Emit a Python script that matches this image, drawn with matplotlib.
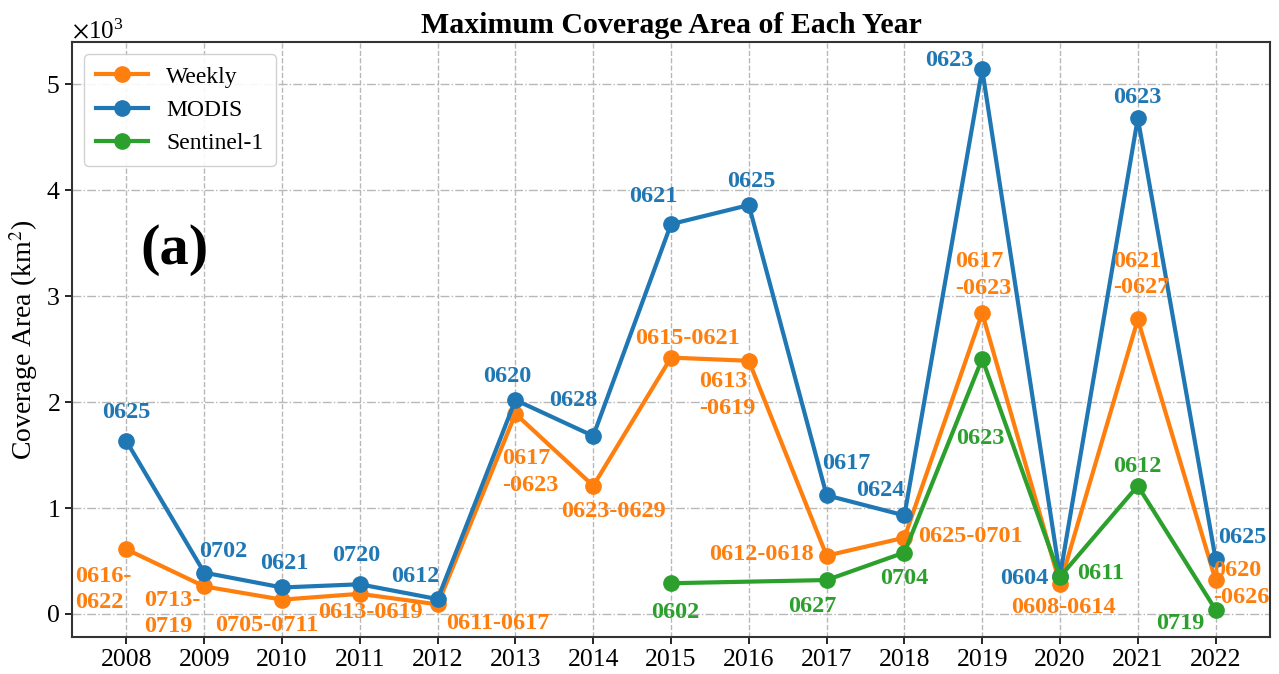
import numpy as np
import matplotlib
matplotlib.use("Agg")
import matplotlib.pyplot as plt

plt.rcParams['font.family'] = ['Liberation Serif', 'DejaVu Serif']
plt.rcParams['mathtext.fontset'] = 'stix'

# ---------------------------------------------------------
# Data (km^2)
# ---------------------------------------------------------
years = [2008, 2009, 2010, 2011, 2012, 2013, 2014, 2015,
         2016, 2017, 2018, 2019, 2020, 2021, 2022]
weekly = [610, 260, 135, 190, 90, 1890, 1210, 2420,
          2390, 550, 720, 2840, 280, 2780, 320]
modis = [1630, 390, 250, 280, 140, 2020, 1680, 3680,
         3860, 1120, 930, 5140, 360, 4680, 520]
s1_years = [2015, 2017, 2018, 2019, 2020, 2021, 2022]
sentinel = [290, 320, 580, 2410, 350, 1210, 40]

weekly_dates = ["0616-\n0622", "0713-\n0719", "0705-0711", "0613-0619", "0611-0617",
                "0617\n-0623", "0623-0629", "0615-0621", "0613\n-0619", "0612-0618",
                "0625-0701", "0617\n-0623", "0608-0614", "0621\n-0627", "0620\n-0626"]
modis_dates = ["0625", "0702", "0621", "0720", "0612", "0620", "0628", "0621",
               "0625", "0617", "0624", "0623", "0604", "0623", "0625"]
s1_dates = ["0602", "0627", "0704", "0623", "0611", "0612", "0719"]

# label offsets in pixels (dx, dy), positive dy = up
weekly_off = [(-23, -40), (-32, -27), (-15, -26), (11, -19), (60, -19),
              (15, -58), (20, -26), (16, 19), (-22, -34), (-65, 1),
              (66, 1), (1, 38), (3, -23), (4, 45), (26, -4)]
modis_off = [(0, 29), (19, 21), (2, 24), (-4, 29), (-22, 23),
             (-8, 23), (-20, 35), (-18, 28), (2, 24), (20, 32),
             (-24, 25), (-33, 9), (-36, -3), (0, 21), (27, 21)]
s1_off = [(4, -29), (-14, -26), (0, -26), (-2, -80), (41, 3), (0, 19), (-35, -14)]

C_WEEKLY = '#ff7f0e'
C_MODIS = '#1f77b4'
C_S1 = '#2ca02c'

fig = plt.figure(figsize=(12.79, 6.74), dpi=100)
ax = fig.add_axes([0.0563, 0.0553, 0.9367, 0.8817])

ax.plot(years, weekly, '-o', color=C_WEEKLY, lw=3, ms=11, label='Weekly', zorder=3)
ax.plot(years, modis, '-o', color=C_MODIS, lw=3, ms=11, label='MODIS', zorder=3)
ax.plot(s1_years, sentinel, '-o', color=C_S1, lw=3, ms=11, label='Sentinel-1', zorder=3)


def put_labels(xs, ys, texts, offs, color):
    for x, y, t, (dx, dy) in zip(xs, ys, texts, offs):
        ax.annotate(t, (x, y), xytext=(dx, dy), textcoords='offset pixels',
                    ha='center', va='center', multialignment='left',
                    color=color, fontsize=17.5, fontweight='bold', linespacing=1.35,
                    zorder=4)


put_labels(years, modis, modis_dates, modis_off, C_MODIS)
put_labels(years, weekly, weekly_dates, weekly_off, C_WEEKLY)
put_labels(s1_years, sentinel, s1_dates, s1_off, C_S1)

ax.set_xticks(years)
ax.tick_params(axis='both', labelsize=18.5, width=1.2, length=5)
ax.ticklabel_format(axis='y', style='sci', scilimits=(3, 3), useMathText=True)
ax.yaxis.get_offset_text().set_fontsize(18)

ax.xaxis.grid(True, ls='--', color='#b8b8b8', lw=1)
ax.yaxis.grid(True, ls='-.', color='#b8b8b8', lw=1)
ax.set_axisbelow(True)
for sp in ax.spines.values():
    sp.set_linewidth(1.5)
    sp.set_color('#333333')

ax.set_ylabel('Coverage Area (km$^2$)', fontsize=20)
ax.set_title('Maximum Coverage Area of Each Year', fontsize=21.5, fontweight='bold', pad=7)
ax.text(0.057, 0.65, '(a)', transform=ax.transAxes, fontsize=42, fontweight='bold',
        ha='left', va='center')

ax.legend(loc='upper left', fontsize=17, borderpad=0.5, handlelength=2.2,
          framealpha=0.9, bbox_to_anchor=(0.0, 1.0))

fig.savefig('out.png', dpi=100)
